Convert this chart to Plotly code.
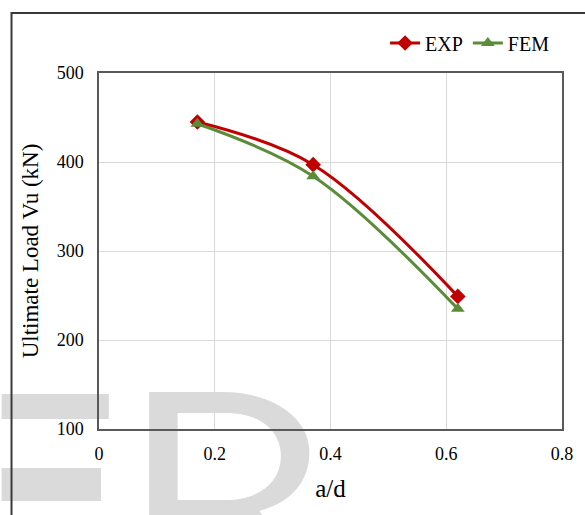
import plotly.graph_objects as go

ad = [0.17, 0.37, 0.62]
exp_vu = [445, 397, 249]
fem_vu = [443, 384, 235]

x_ticks = [0, 0.2, 0.4, 0.6, 0.8]
y_ticks = [100, 200, 300, 400, 500]

FONT = "Liberation Serif, Times New Roman, serif"

fig = go.Figure()
fig.add_trace(go.Scatter(
    x=ad, y=exp_vu, name="EXP", mode="lines+markers",
    line=dict(color="#C00000", width=3, shape="spline", smoothing=1),
    marker=dict(symbol="diamond", size=12, color="#C00000"),
))
fig.add_trace(go.Scatter(
    x=ad, y=fem_vu, name="FEM", mode="lines+markers",
    line=dict(color="#5B8C3A", width=3, shape="spline", smoothing=1),
    marker=dict(symbol="triangle-up", size=12, color="#5B8C3A"),
))

L, R, T, B = 99, 15, 73, 86
W, H = 585, 515
pw, ph = W - L - R, H - T - B

def px(xp):
    return (xp - L) / pw

def py(yp):
    return (H - B - yp) / ph

def pt(x, y):
    return f"{px(x):.4f},{py(y):.4f}"

# watermark "R" drawn as a path (pixel outline -> paper coords)
r_path = (
    f"M{pt(150,392)} L{pt(225,392)} C{pt(276,392)} {pt(313,418)} {pt(313,452)} "
    f"C{pt(313,484)} {pt(292,503)} {pt(262,511)} L{pt(300,560)} L{pt(150,560)} Z "
    f"M{pt(179,413)} L{pt(228,413)} C{pt(262,413)} {pt(284,430)} {pt(284,456)} "
    f"C{pt(284,482)} {pt(262,500)} {pt(228,500)} L{pt(179,500)} Z"
)

shapes = [
    dict(type="rect", xref="paper", yref="paper", layer="below",
         x0=px(0), x1=px(109), y0=py(419), y1=py(394),
         fillcolor="#dadada", line=dict(width=0)),
    dict(type="rect", xref="paper", yref="paper", layer="below",
         x0=px(0), x1=px(101), y0=py(501), y1=py(468),
         fillcolor="#dadada", line=dict(width=0)),
    dict(type="path", xref="paper", yref="paper", layer="below",
         path=r_path, fillcolor="#dadada", fillrule="evenodd", line=dict(width=0)),
    dict(type="rect", xref="paper", yref="paper", layer="above",
         x0=px(10), x1=px(610), y0=py(13), y1=py(560),
         fillcolor="rgba(0,0,0,0)", line=dict(color="#3a3a3a", width=2)),
]

fig.update_layout(
    width=W, height=H,
    margin=dict(l=L, r=R, t=T, b=B),
    paper_bgcolor="white", plot_bgcolor="rgba(0,0,0,0)",
    font=dict(family=FONT, size=17, color="#000000"),
    shapes=shapes,
    showlegend=True,
    legend=dict(orientation="h", x=px(390), y=py(43), xanchor="left", yanchor="middle",
                font=dict(family=FONT, size=20, color="#000000"),
                bgcolor="rgba(0,0,0,0)", itemwidth=30, tracegroupgap=0),
    xaxis=dict(range=[0, 0.8], tickvals=x_ticks, ticktext=["0", "0.2", "0.4", "0.6", "0.8"],
               showgrid=True, gridcolor="#d9d9d9", gridwidth=1,
               showline=True, linecolor="#595959", linewidth=1.5, mirror=True,
               zeroline=False, ticks="", ticklen=0, ticklabelstandoff=8,
               title=dict(text="a/d", font=dict(family=FONT, size=25), standoff=16),
               tickfont=dict(family=FONT, size=18)),
    yaxis=dict(range=[100, 500], tickvals=y_ticks,
               showgrid=True, gridcolor="#d9d9d9", gridwidth=1,
               showline=True, linecolor="#595959", linewidth=1.5, mirror=True,
               zeroline=False, ticks="", ticklen=0, ticklabelstandoff=10,
               title=dict(text="Ultimate Load Vu (kN)", font=dict(family=FONT, size=23), standoff=12),
               tickfont=dict(family=FONT, size=18)),
)

fig.write_html("out.html")
